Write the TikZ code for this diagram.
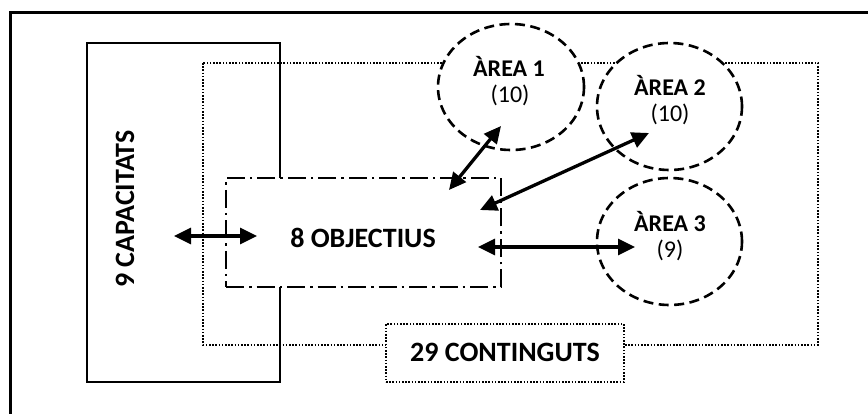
\documentclass[tikz,border=0pt]{standalone}
\usepackage{fontspec}
\setmainfont{Carlito}
\usetikzlibrary{arrows.meta,shapes.geometric}
\begin{document}
\begin{tikzpicture}[x=1pt,y=-1pt,
  lbl/.style={font=\fontsize{28}{32}\selectfont\bfseries, inner sep=0pt},
  albl/.style={font=\fontsize{24}{28}\selectfont\bfseries, inner sep=0pt},
  lblr/.style={font=\fontsize{24}{28}\selectfont, inner sep=0pt},
  dotbox/.style={draw, line width=1.8pt, dash pattern=on 1.6pt off 1.6pt},
  areabox/.style={ellipse, draw, fill=white, line width=2.6pt, dash pattern=on 10pt off 5.5pt, inner sep=0pt},
  dblarrow/.style={line width=3.3pt, {Triangle[length=17pt,width=16pt]}-{Triangle[length=17pt,width=16pt]}}
]
\useasboundingbox (0,0) rectangle (868,414);
% outer frame
\draw[line width=3pt] (10,416) -- (10,13) -- (870,13);
% contents dotted region
\draw[dotbox] (203,63) rectangle (818,345);
% capacitats box
\draw[line width=2.6pt] (87,43) rectangle (280,382);
% objectius box
\node[draw, fill=white, line width=2.6pt, dash pattern=on 18pt off 5pt on 2.5pt off 5pt,
      minimum width=275pt, minimum height=109pt, inner sep=0pt] (obj) at (363.5,232.5) {};
% areas
\node[areabox, minimum width=146pt, minimum height=126pt] (a1) at (511,87) {};
\node[areabox, minimum width=145pt, minimum height=127pt] (a2) at (669.5,106.5) {};
\node[areabox, minimum width=145pt, minimum height=127pt] (a3) at (669.5,241.5) {};
% continguts box
\node[dotbox, fill=white, minimum width=238pt, minimum height=58pt, inner sep=0pt] (cont) at (505,353) {};
% texts
\node[lbl, rotate=90] (capt) at (125,209) {9 CAPACITATS};
\node[lbl] (objt) at (363,238) {8 OBJECTIUS};
\node[lbl] (contt) at (505,352) {29 CONTINGUTS};
\node[albl] (a1t) at (509,66) {ÀREA 1};
\node[lblr] (a1n) at (510,95) {(10)};
\node[albl] (a2t) at (670,85) {ÀREA 2};
\node[lblr] (a2n) at (670,114) {(10)};
\node[albl] (a3t) at (670,222) {ÀREA 3};
\node[lblr] (a3n) at (670,250) {(9)};
% arrow end points
\coordinate (c1) at (174,236);
\coordinate (c2) at (257,236);
\coordinate (o1) at (449,190);
\coordinate (e1) at (501,126);
\coordinate (o2) at (480,210);
\coordinate (e2) at (649,133);
\coordinate (o3) at (478,247);
\coordinate (e3) at (635,247);
\draw[dblarrow] (c1) -- (c2);
\draw[dblarrow] (o1) -- (e1);
\draw[dblarrow] (o2) -- (e2);
\draw[dblarrow] (o3) -- (e3);
\end{tikzpicture}
\end{document}
